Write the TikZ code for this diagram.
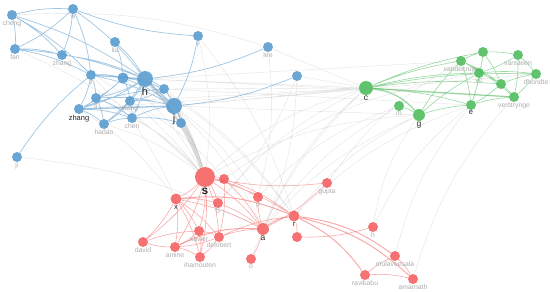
\documentclass[tikz,border=0pt]{standalone}
\usepackage{fontspec}
\setmainfont{Liberation Sans}
\usetikzlibrary{backgrounds}
\definecolor{nblue}{RGB}{80,150,204}
\definecolor{ngreen}{RGB}{70,184,86}
\definecolor{nred}{RGB}{244,88,88}
\begin{document}
\begin{tikzpicture}[x=1pt,y=-1pt]
    \tikzset{v/.style={circle, inner sep=0pt, minimum size=10pt, fill opacity=.85},
             bv/.style={v, fill=nblue}, gv/.style={v, fill=ngreen}, rv/.style={v, fill=nred},
             big/.style={minimum size=#1pt},
             lab/.style={inner sep=.4pt, text=gray!65, font=\fontsize{6.8}{7}\selectfont},
             labk/.style={inner sep=.4pt, text=black!85, font=\fontsize{#1}{#1}\selectfont},
             bl/.style={nblue, opacity=.55, line width=.7pt},
             gl/.style={ngreen, opacity=.55, line width=.6pt},
             rl/.style={nred, opacity=.5, line width=.6pt},
             xl/.style={gray, opacity=.22, line width=.4pt}}
    \useasboundingbox (0,0) rectangle (550,292);

    % ---- Blue cluster ----
    \node[bv] (b1) at (12,15) [label={[lab]below:cheng}] {};
    \node[bv] (b2) at (73,9) [label={[lab]below:w}] {};
    \node[bv] (b3) at (15,49) [label={[lab]below:fan}] {};
    \node[bv] (b4) at (62,55) [label={[lab]below:zhang}] {};
    \node[bv] (b5) at (115,42) [label={[lab]below:liu}] {};
    \node[bv] (b6) at (198,36) [label={[lab]below:y}] {};
    \node[bv] (b7) at (268,47) [label={[lab]below:lee}] {};
    \node[bv] (b8) at (297,76) {};
    \node[bv] (b9) at (91,75) [label={[lab]below:z}] {};
    \node[bv, big=11] (b10) at (123,78) {};
    \node[bv, big=16] (b11) at (145,79) [label={[labk=11]below:h}] {};
    \node[bv] (b12) at (164,89) {};
    \node[bv] (b13) at (96,98) [label={[lab]below:li}] {};
    \node[bv] (b14) at (130,101) [label={[lab]below:wang}] {};
    \node[bv] (b15) at (79,109) [label={[labk=7.5]below:zhang}] {};
    \node[bv, big=16] (b16) at (174,106) [label={[labk=11]below:j}] {};
    \node[bv] (b17) at (104,124) [label={[lab]below:hadao}] {};
    \node[bv] (b18) at (132,118) [label={[lab]below:chen}] {};
    \node[bv] (b19) at (181,123) {};
    \node[bv] (b20) at (17,157) [label={[lab]below:ji}] {};

    % ---- Green cluster ----
    \node[gv, big=14] (g1) at (366,88) [label={[labk=8.5]below:c}] {};
    \node[gv] (g2) at (399,106) [label={[lab]below:m}] {};
    \node[gv, big=12] (g3) at (419,115) [label={[labk=8.5]below:g}] {};
    \node[gv] (g4) at (471,105) [label={[labk=7.5]below:e}] {};
    \node[gv] (g5) at (461,61) [label={[lab]below:vandecruys}] {};
    \node[gv] (g6) at (483,52) {};
    \node[gv] (g7) at (518,55) [label={[lab]below:vansteen}] {};
    \node[gv] (g8) at (479,73) [label={[lab]below:vo}] {};
    \node[gv] (g9) at (501,84) {};
    \node[gv] (g10) at (536,74) [label={[lab]below:dhondte}] {};
    \node[gv] (g11) at (514,97) [label={[lab]below:verstrynge}] {};

    % ---- Red cluster ----
    \node[rv, big=20] (r1) at (205,177) [label={[labk=12, font=\bfseries\fontsize{12}{12}\selectfont]below:s}] {};
    \node[rv] (r2) at (224,179) {};
    \node[rv, big=11] (r3) at (176,199) [label={[labk=7.5]below:x}] {};
    \node[rv] (r4) at (258,197) [label={[lab]below:p}] {};
    \node[rv] (r5) at (218,203) [label={[lab]below:b}] {};
    \node[rv, big=11] (r6) at (294,216) [label={[labk=7.5]below:r}] {};
    \node[rv, big=12] (r7) at (263,229) [label={[labk=8.5]below:a}] {};
    \node[rv] (r8) at (199,231) [label={[lab]below:xavier}] {};
    \node[rv] (r9) at (219,237) [label={[lab]below:delobert}] {};
    \node[rv] (r10) at (297,237) {};
    \node[rv] (r11) at (143,242) [label={[lab]below:david}] {};
    \node[rv] (r12) at (175,247) [label={[lab]below:amine}] {};
    \node[rv] (r13) at (200,257) [label={[lab]below:ihamouten}] {};
    \node[rv] (r14) at (251,259) [label={[lab]below:o}] {};
    \node[rv] (r15) at (327,183) [label={[lab]below:gupta}] {};
    \node[rv] (r16) at (373,227) [label={[lab]below:h}] {};
    \node[rv] (r17) at (395,256) [label={[lab]below:mulaveesala}] {};
    \node[rv] (r18) at (365,275) [label={[lab]below:ravibabu}] {};
    \node[rv] (r19) at (413,279) [label={[lab]below:amarnath}] {};

    \begin{scope}[on background layer]
    % ---- links between clusters ----
    \draw[xl, line width=2.5pt, opacity=.3] (b11) to[bend left=10] (r1) (b16) to[bend left=6] (r1);
    \draw[xl, bend left=10] (b10) to (r1) (b12) to (r1) (b17) to (r1) (b18) to (r1) (b19) to (r1)
          (b14) to (r2) (b9) to (r3) (b16) to (r7) (b11) to (r6) (b20) to (r7) (b3) to (r1)
          (b6) to (r1) (b7) to (r4) (b8) to (r5) (b1) to (b7) (b13) to (r1) (b15) to (r3)
          (b4) to (r1) (b16) to (r4) (b12) to (r6) (b6) to (r6) (b8) to (r7);
    \draw[xl] (b11) -- (g1) (b16) -- (g1) (b12) -- (g1) (b10) -- (g1) (b15) -- (g1)
          (b8) -- (g1) (b7) -- (g1) (b11) -- (g5) (b16) -- (g10) (b12) -- (g4) (b16) -- (g3)
          (b11) -- (g11) (b14) -- (g1);
    \draw[xl, bend right=12] (g1) to (r1) (g1) to (r7) (g3) to (r6) (g3) to (r7) (g4) to (r6)
          (g4) to (r17) (g2) to (r4) (g5) to (r15) (g11) to (r19) (g3) to (r16) (g1) to (r14)
          (g8) to (r2) (g1) to (r5) (g3) to (r1) (g4) to (r16) (g2) to (r7);

    % ---- blue links ----
    \draw[bl, bend left=8] (b1) to (b2) (b1) to (b3) (b1) to (b9) (b1) to (b11) (b2) to (b3)
          (b2) to (b4) (b2) to (b9) (b2) to (b11) (b3) to (b4) (b3) to (b11) (b3) to (b9)
          (b4) to (b11) (b5) to (b11) (b5) to (b10) (b9) to (b10) (b10) to (b12) (b10) to (b13)
          (b10) to (b14) (b10) to (b15) (b10) to (b16) (b11) to (b12) (b11) to (b13) (b11) to (b14)
          (b11) to (b15) (b11) to (b17) (b11) to (b18) (b12) to (b16) (b13) to (b15) (b13) to (b16)
          (b13) to (b18) (b14) to (b16) (b14) to (b17) (b15) to (b17) (b15) to (b18) (b17) to (b18)
          (b18) to (b16) (b18) to (b19) (b16) to (b19) (b6) to (b16) (b7) to (b11) (b8) to (b16)
          (b20) to (b9) (b6) to (b2) (b9) to (b13) (b9) to (b15) (b12) to (b14) (b13) to (b17)
          (b15) to (b12) (b9) to (b16) (b14) to (b18) (b1) to (b4);
    \draw[bl, line width=1.3pt] (b10) -- (b11) (b11) -- (b16) (b15) -- (b16) (b9) -- (b11);

    % ---- green links ----
    \draw[gl, line width=1.2pt] (g1) -- (g11) (g1) to[bend left=20] (g3);
    \draw[gl, bend left=6] (g1) to (g5) (g1) to (g6) (g1) to (g8) (g1) to (g9) (g1) to (g10)
          (g1) to (g4) (g3) to (g4) (g3) to (g5) (g3) to (g8) (g5) to (g6) (g5) to (g8)
          (g5) to (g9) (g5) to (g11) (g5) to (g4) (g6) to (g7) (g6) to (g8) (g6) to (g9)
          (g6) to (g4) (g7) to (g8) (g7) to (g10) (g7) to (g11) (g8) to (g9) (g8) to (g10)
          (g8) to (g4) (g9) to (g10) (g9) to (g11) (g9) to (g4) (g10) to (g11) (g4) to (g11)
          (g2) to (g3);

    % ---- red links ----
    \draw[rl, bend left=8] (r1) to (r2) (r1) to (r3) (r1) to (r5) (r1) to (r8) (r1) to (r9)
          (r1) to (r7) (r1) to (r12) (r1) to (r13) (r1) to (r4) (r1) to (r11) (r1) to (r6)
          (r3) to (r5) (r3) to (r8) (r3) to (r9) (r3) to (r12) (r3) to (r13) (r3) to (r7)
          (r3) to (r11) (r8) to (r9) (r8) to (r12) (r8) to (r13) (r9) to (r12) (r9) to (r13)
          (r9) to (r7) (r9) to (r6) (r12) to (r13) (r12) to (r11) (r11) to (r8) (r7) to (r4)
          (r7) to (r14) (r6) to (r10) (r18) to (r17) (r18) to (r19) (r17) to (r19) (r15) to (r1)
          (r15) to (r7) (r16) to (r10) (r2) to (r7) (r2) to (r6) (r5) to (r7) (r2) to (r9);
    \draw[rl, line width=1pt, bend left=14] (r7) to (r6) (r6) to (r17) (r6) to (r18) (r6) to (r19)
          (r12) to (r7) (r3) to (r6);
    \end{scope}
\end{tikzpicture}
\end{document}
